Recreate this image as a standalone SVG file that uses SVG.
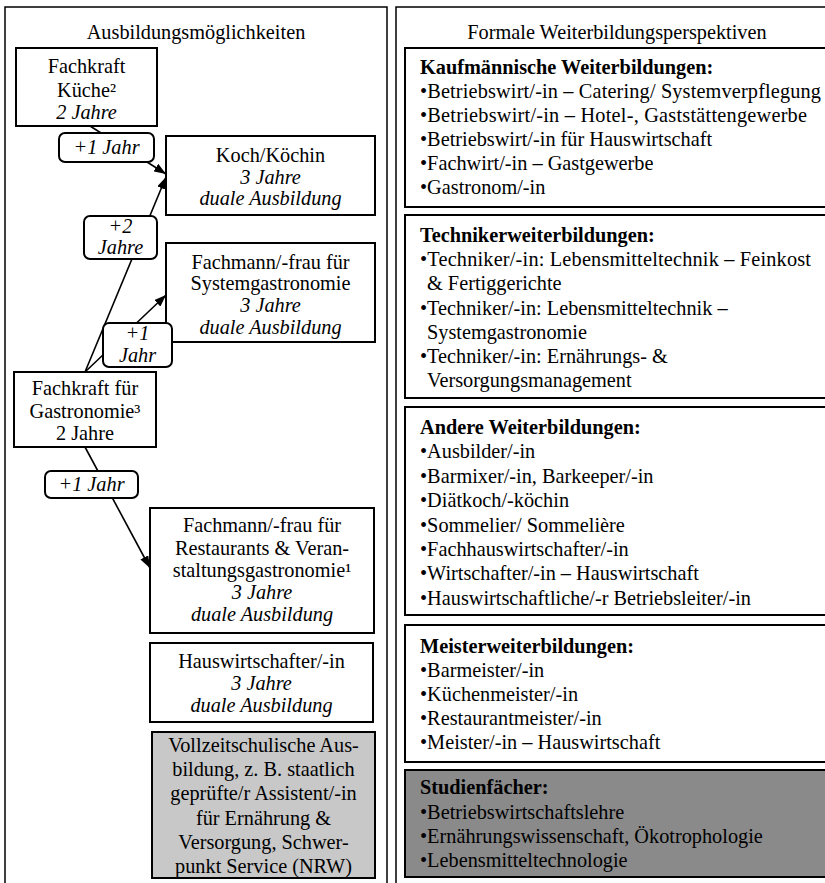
<svg xmlns="http://www.w3.org/2000/svg" width="825" height="883" viewBox="0 0 825 883">
<defs>
<style>
text{font-family:"Liberation Serif","Times New Roman",serif;font-size:20.3px;fill:#000}
.c{text-anchor:middle}
.i{font-style:italic}
.b{font-weight:bold}
.panel{fill:none;stroke:#000;stroke-width:1.5}
.box{fill:#fff;stroke:#000;stroke-width:2}
.lbl{fill:#fff;stroke:#000;stroke-width:2}
.edge{fill:none;stroke:#000;stroke-width:1.6}
</style>
<marker id="ah" markerUnits="userSpaceOnUse" markerWidth="12" markerHeight="9" refX="12" refY="4.5" orient="auto">
<path d="M0,0 L12,4.5 L0,9 z" fill="#000"/>
</marker>
</defs>
<rect width="825" height="883" fill="#fff"/>
<g id="panel-left">
<rect class="panel" x="5" y="7" width="382" height="900"/>
<text class="c" x="196" y="39">Ausbildungsmöglichkeiten</text>
</g>
<g id="panel-right">
<rect class="panel" x="396" y="7" width="460" height="900"/>
<text class="c" x="617" y="39">Formale Weiterbildungsperspektiven</text>
</g>
<g id="n-kueche">
<rect class="box" x="16" y="48" width="141" height="78"/>
<text class="c" x="86.5" y="73">Fachkraft</text>
<text class="c" x="86.5" y="97">Küche²</text>
<text class="c i" x="86.5" y="119">2 Jahre</text>
</g>
<g id="n-koch">
<rect class="box" x="166" y="136" width="209" height="79"/>
<text class="c" x="270.5" y="162">Koch/Köchin</text>
<text class="c i" x="270.5" y="184">3 Jahre</text>
<text class="c i" x="270.5" y="205">duale Ausbildung</text>
</g>
<g id="n-system">
<rect class="box" x="166" y="243" width="209" height="99"/>
<text class="c" x="270.5" y="269">Fachmann/-frau für</text>
<text class="c" x="270.5" y="290">Systemgastronomie</text>
<text class="c i" x="270.5" y="312">3 Jahre</text>
<text class="c i" x="270.5" y="334">duale Ausbildung</text>
</g>
<g id="n-gastro">
<rect class="box" x="14" y="372" width="142" height="75"/>
<text class="c" x="85" y="395">Fachkraft für</text>
<text class="c" x="85" y="418">Gastronomie³</text>
<text class="c" x="85" y="440">2 Jahre</text>
</g>
<g id="n-restaurant">
<rect class="box" x="150" y="508" width="224" height="125"/>
<text class="c" x="262" y="532">Fachmann/-frau für</text>
<text class="c" x="262" y="555">Restaurants &amp; Veran-</text>
<text class="c" x="262" y="577">staltungsgastronomie¹</text>
<text class="c i" x="262" y="599">3 Jahre</text>
<text class="c i" x="262" y="621">duale Ausbildung</text>
</g>
<g id="n-hauswirt">
<rect class="box" x="150" y="643" width="223" height="79"/>
<text class="c" x="261.5" y="668">Hauswirtschafter/-in</text>
<text class="c i" x="261.5" y="690">3 Jahre</text>
<text class="c i" x="261.5" y="712">duale Ausbildung</text>
</g>
<g id="n-vollzeit">
<rect class="box" x="152" y="732" width="223" height="146" style="fill:#c8c8c8"/>
<text class="c" x="263.5" y="752">Vollzeitschulische Aus-</text>
<text class="c" x="263.5" y="776">bildung, z. B. staatlich</text>
<text class="c" x="263.5" y="800">geprüfte/r Assistent/-in</text>
<text class="c" x="263.5" y="825">für Ernährung &amp;</text>
<text class="c" x="263.5" y="849">Versorgung, Schwer-</text>
<text class="c" x="263.5" y="873">punkt Service (NRW)</text>
</g>
<g id="n-kaufm">
<rect class="box" x="405" y="48" width="430" height="159"/>
<text class="b" x="420" y="74">Kaufmännische Weiterbildungen:</text>
<text x="420" y="98" textLength="401" lengthAdjust="spacing">•Betriebswirt/-in – Catering/ Systemverpflegung</text>
<text x="420" y="122" textLength="387" lengthAdjust="spacing">•Betriebswirt/-in – Hotel-, Gaststättengewerbe</text>
<text x="420" y="146">•Betriebswirt/-in für Hauswirtschaft</text>
<text x="420" y="170">•Fachwirt/-in – Gastgewerbe</text>
<text x="420" y="194">•Gastronom/-in</text>
</g>
<g id="n-techniker">
<rect class="box" x="405" y="215" width="430" height="183"/>
<text class="b" x="420" y="242">Technikerweiterbildungen:</text>
<text x="420" y="266" textLength="391" lengthAdjust="spacing">•Techniker/-in: Lebensmitteltechnik – Feinkost</text>
<text x="427" y="290">&amp; Fertiggerichte</text>
<text x="420" y="315">•Techniker/-in: Lebensmitteltechnik –</text>
<text x="427" y="339">Systemgastronomie</text>
<text x="420" y="363">•Techniker/-in: Ernährungs- &amp;</text>
<text x="427" y="387">Versorgungsmanagement</text>
</g>
<g id="n-andere">
<rect class="box" x="405" y="407" width="430" height="208"/>
<text class="b" x="420" y="434">Andere Weiterbildungen:</text>
<text x="420" y="458">•Ausbilder/-in</text>
<text x="420" y="483">•Barmixer/-in, Barkeeper/-in</text>
<text x="420" y="507">•Diätkoch/-köchin</text>
<text x="420" y="532">•Sommelier/ Sommelière</text>
<text x="420" y="556">•Fachhauswirtschafter/-in</text>
<text x="420" y="580">•Wirtschafter/-in – Hauswirtschaft</text>
<text x="420" y="605">•Hauswirtschaftliche/-r Betriebsleiter/-in</text>
</g>
<g id="n-meister">
<rect class="box" x="405" y="625" width="430" height="137"/>
<text class="b" x="420" y="653">Meisterweiterbildungen:</text>
<text x="420" y="677">•Barmeister/-in</text>
<text x="420" y="701">•Küchenmeister/-in</text>
<text x="420" y="725">•Restaurantmeister/-in</text>
<text x="420" y="749">•Meister/-in – Hauswirtschaft</text>
</g>
<g id="n-studium">
<rect class="box" x="405" y="770" width="430" height="107" style="fill:#8a8a8a"/>
<text class="b" x="420" y="794">Studienfächer:</text>
<text x="420" y="819">•Betriebswirtschaftslehre</text>
<text x="420" y="843">•Ernährungswissenschaft, Ökotrophologie</text>
<text x="420" y="867">•Lebensmitteltechnologie</text>
</g>
<g id="connectors">
<line class="edge" x1="90" y1="126" x2="166" y2="174" marker-end="url(#ah)"/>
<line class="edge" x1="85" y1="372" x2="166" y2="177" marker-end="url(#ah)"/>
<line class="edge" x1="85" y1="372" x2="166" y2="295" marker-end="url(#ah)"/>
<line class="edge" x1="85" y1="447" x2="150" y2="568" marker-end="url(#ah)"/>
<g id="l-kueche-koch">
<rect class="lbl" x="59" y="133" width="95" height="29" rx="6"/>
<text class="c i" x="106.5" y="154">+1 Jahr</text>
</g>
<g id="l-gastro-koch">
<rect class="lbl" x="84" y="216" width="73" height="43" rx="6"/>
<text class="c i" x="120.5" y="233">+2</text>
<text class="c i" x="120.5" y="254">Jahre</text>
</g>
<g id="l-gastro-system">
<rect class="lbl" x="103" y="323" width="69" height="44" rx="6"/>
<text class="c i" x="137.5" y="340">+1</text>
<text class="c i" x="137.5" y="362">Jahr</text>
</g>
<g id="l-gastro-restaurant">
<rect class="lbl" x="45" y="471" width="93" height="27" rx="6"/>
<text class="c i" x="91.5" y="491">+1 Jahr</text>
</g>
</g>
</svg>
